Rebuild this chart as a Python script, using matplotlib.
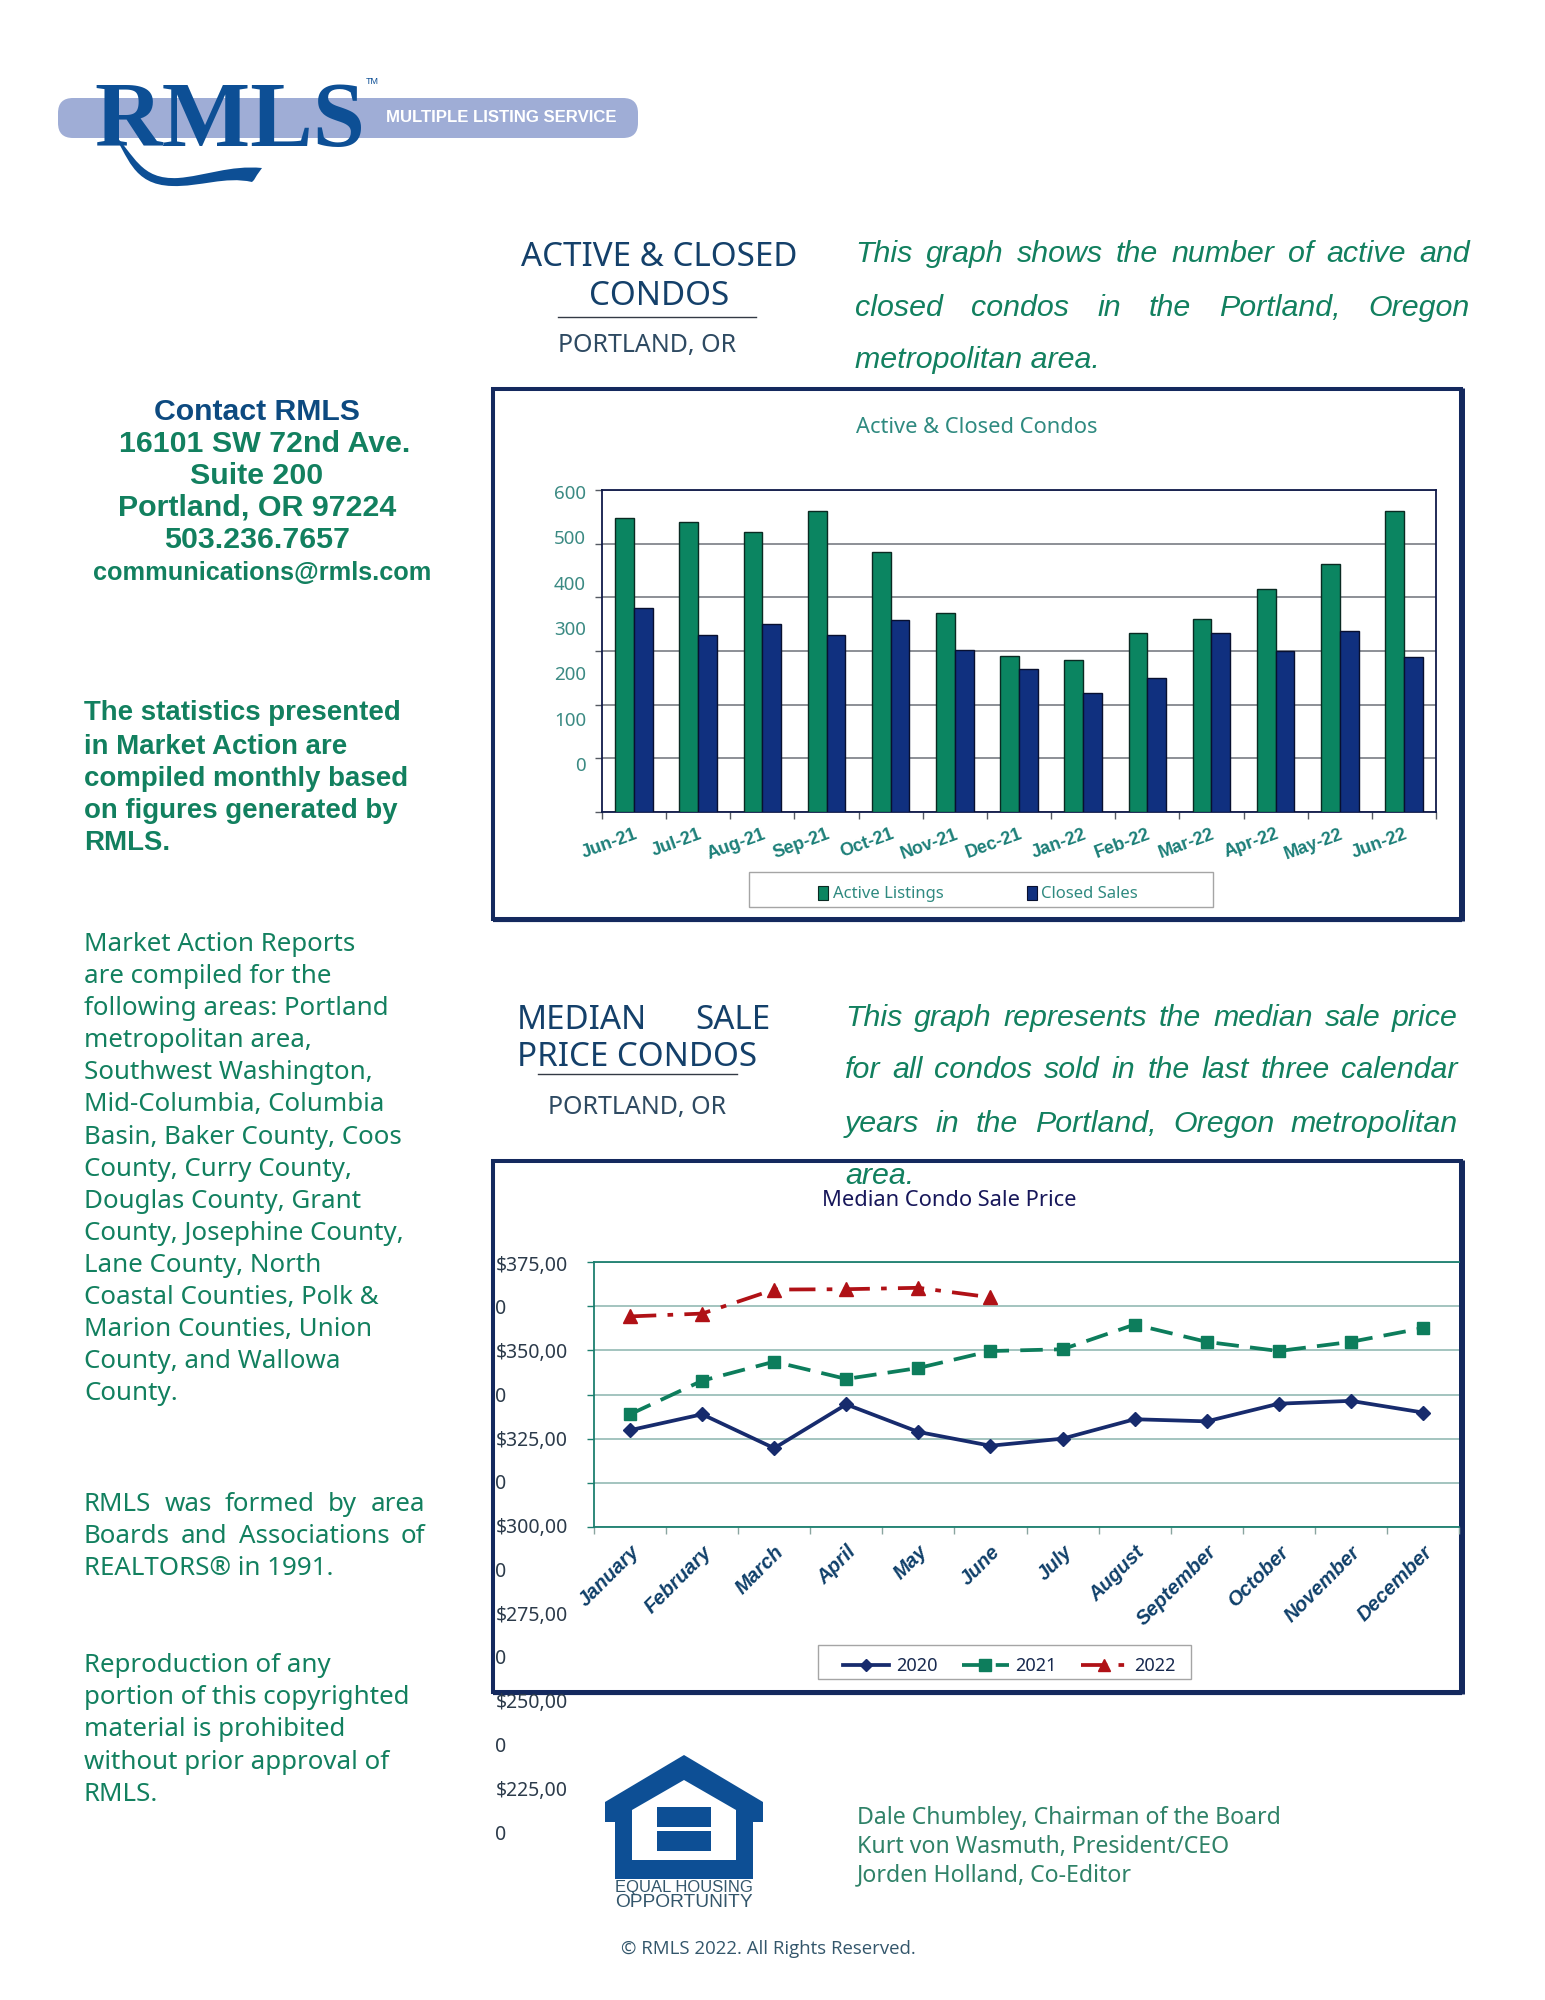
import matplotlib
matplotlib.use("Agg")
import matplotlib.pyplot as plt
from matplotlib.patches import Rectangle, Polygon, FancyBboxPatch, PathPatch
from matplotlib.path import Path
from matplotlib.lines import Line2D
import numpy as np

W, H = 1545, 2000

# ---- data ----
bar_months = ["Jun-21", "Jul-21", "Aug-21", "Sep-21", "Oct-21", "Nov-21", "Dec-21",
              "Jan-22", "Feb-22", "Mar-22", "Apr-22", "May-22", "Jun-22"]
active_listings = [548, 541, 522, 560, 484, 371, 290, 283, 334, 360, 415, 463, 560]
closed_sales = [380, 329, 350, 329, 358, 302, 267, 221, 249, 334, 300, 337, 288]
bar_ticks = [0, 100, 200, 300, 400, 500, 600]

line_months = ["January", "February", "March", "April", "May", "June", "July", "August",
               "September", "October", "November", "December"]
price_2020 = [327.4, 331.9, 322.3, 334.7, 326.9, 323.0, 325.0, 330.5, 329.9, 334.9, 335.7, 332.4]
price_2021 = [331.9, 341.4, 346.8, 341.9, 345.0, 349.8, 350.3, 357.3, 352.4, 349.8, 352.4, 356.3]
price_2022 = [359.6, 360.4, 367.2, 367.3, 367.7, 365.0]
price_grid = [300, 312.5, 325, 337.5, 350, 362.5, 375]
price_label_rows = [375, 362.5, 350, 337.5, 325, 312.5, 300, 287.5, 275, 262.5, 250, 237.5, 225, 212.5]
price_labels = ["$375,00", "0", "$350,00", "0", "$325,00", "0", "$300,00", "0",
                "$275,00", "0", "$250,00", "0", "$225,00", "0"]

GREEN = "#12805f"
TEAL = "#2f8a80"
NAVY = "#15296a"
FRAME = "#14295e"
BLUE = "#0d4f95"
PLEX = ["Noto Sans", "DejaVu Sans"]
ARIAL = ["Liberation Sans", "DejaVu Sans"]

fig = plt.figure(figsize=(W / 100, H / 100), dpi=100, facecolor="white")
renderer = fig.canvas.get_renderer()


def px_axes(l, t, r, b, **kw):
    return fig.add_axes([l / W, 1 - b / H, (r - l) / W, (b - t) / H], **kw)


bg = px_axes(0, 0, W, H, zorder=0)
bg.set_xlim(0, W)
bg.set_ylim(H, 0)
bg.axis("off")


def fit_size(s, width, **kw):
    t = bg.text(0, 0, s, fontsize=20, **kw)
    w = t.get_window_extent(renderer).width
    t.remove()
    return 20 * width / w


def y_shift(kw):
    return 2.5 if kw.get("family") == PLEX else 1.5


def txt(s, x, y, size=None, width=None, ha="left", **kw):
    if size is None:
        size = fit_size(s, width, **{k: v for k, v in kw.items() if k in ("family", "weight", "style")})
    bg.text(x, y + y_shift(kw), s, fontsize=size, ha=ha, va="center", **kw)
    return size


def justified(s, x0, x1, y, size, **kw):
    words = s.split()
    ws = []
    for w in words:
        t = bg.text(0, 0, w, fontsize=size, **kw)
        ws.append(t.get_window_extent(renderer).width)
        t.remove()
    gap = (x1 - x0 - sum(ws)) / (len(words) - 1)
    x = x0
    for w, wd in zip(words, ws):
        bg.text(x, y + y_shift(kw), w, fontsize=size, ha="left", va="center", **kw)
        x += wd + gap


# ---- logo ----
bg.add_patch(FancyBboxPatch((58, 98), 580, 40, boxstyle="round,pad=0,rounding_size=15",
                            mutation_aspect=1, fc="#9fadd6", ec="none"))
txt("RMLS", 94, 122, width=270, family=["Liberation Serif"], color=BLUE, weight="bold")
swash = Path([(112, 132), (135, 155), (140, 180), (178, 178), (205, 176), (230, 165), (262, 168),
              (257, 175), (254, 180), (252, 182), (225, 176), (200, 187), (172, 186),
              (132, 185), (128, 155), (112, 132)],
             [Path.MOVETO] + [Path.CURVE4] * 6 + [Path.LINETO] * 3 + [Path.CURVE4] * 6)
bg.add_patch(PathPatch(swash, fc=BLUE, ec="none"))
txt("MULTIPLE LISTING SERVICE", 386, 116, width=231, family=ARIAL, weight="bold", color="white")
txt("TM", 366, 80, size=6.5, family=ARIAL, color=BLUE)

# ---- left column ----
txt("Contact RMLS", 257, 410, width=207, ha="center", family=ARIAL, weight="bold", color="#0d4a80")
s = txt("16101 SW 72nd Ave.", 265, 442, width=292, ha="center", family=ARIAL, weight="bold", color=GREEN)
txt("Suite 200", 257, 475, size=s, ha="center", family=ARIAL, weight="bold", color=GREEN)
txt("Portland, OR 97224", 257, 506, size=s, ha="center", family=ARIAL, weight="bold", color=GREEN)
txt("503.236.7657", 257, 538, size=s, ha="center", family=ARIAL, weight="bold", color=GREEN)
txt("communications@rmls.com", 262, 572, width=338, ha="center", family=ARIAL, weight="bold", color=GREEN)

bold_lines = ["The statistics presented", "in Market Action are", "compiled monthly based",
              "on figures generated by", "RMLS."]
s = fit_size(bold_lines[0], 316, family=ARIAL, weight="bold")
for ln, y in zip(bold_lines, [712, 745, 777, 809, 841]):
    txt(ln, 84, y, size=s, family=ARIAL, weight="bold", color=GREEN)

market_lines = ["Market Action Reports", "are compiled for the", "following areas: Portland",
                "metropolitan area,", "Southwest Washington,", "Mid-Columbia, Columbia",
                "Basin, Baker County, Coos", "County, Curry County,", "Douglas County, Grant",
                "County, Josephine County,", "Lane County, North", "Coastal Counties, Polk &",
                "Marion Counties, Union", "County, and Wallowa", "County."]
body = fit_size(market_lines[0], 271, family=PLEX)
for i, ln in enumerate(market_lines):
    txt(ln, 84, 942 + 32.1 * i, size=body, family=PLEX, color=GREEN)

justified("RMLS was formed by area", 84, 425, 1502, body, family=PLEX, color=GREEN)
justified("Boards and Associations of", 84, 425, 1534, body, family=PLEX, color=GREEN)
txt("REALTORS® in 1991.", 84, 1566, size=body, family=PLEX, color=GREEN)

repro = ["Reproduction of any", "portion of this copyrighted", "material is prohibited",
         "without prior approval of", "RMLS."]
for ln, y in zip(repro, [1663, 1695, 1727, 1760, 1792]):
    txt(ln, 84, y, size=body, family=PLEX, color=GREEN)

# ---- headings ----
HEAD = "#14406a"
hs = txt("ACTIVE & CLOSED", 659, 255, width=277, ha="center", family=PLEX, color=HEAD)
txt("CONDOS", 659, 294, size=hs, ha="center", family=PLEX, color=HEAD)
bg.plot([558, 756], [317, 317], color="#333a45", lw=1)
ps = txt("PORTLAND, OR", 647, 343, width=179, ha="center", family=PLEX, color="#2e4a62")

it = dict(family=ARIAL, style="italic", color=GREEN)
isz = fit_size("metropolitan area.", 244, family=ARIAL, style="italic")
justified("This graph shows the number of active and", 855, 1470, 253, isz, **it)
justified("closed condos in the Portland, Oregon", 855, 1470, 306, isz, **it)
txt("metropolitan area.", 855, 358, size=isz, **it)

justified("MEDIAN SALE", 517, 770, 1018, hs, family=PLEX, color=HEAD)
txt("PRICE CONDOS", 517, 1055, size=hs, family=PLEX, color=HEAD)
bg.plot([538, 737], [1074, 1074], color="#333a45", lw=1)
txt("PORTLAND, OR", 637, 1105, size=ps, ha="center", family=PLEX, color="#2e4a62")

justified("This graph represents the median sale price", 845, 1458, 1016, isz, **it)
justified("for all condos sold in the last three calendar", 845, 1458, 1069, isz, **it)
justified("years in the Portland, Oregon metropolitan", 845, 1458, 1122, isz, **it)
txt("area.", 845, 1175, size=isz, **it)

# ---- frames ----
for t, b in [(389, 919), (1161, 1692)]:
    bg.add_patch(Rectangle((493, t), 968, b - t, fc="white", ec=FRAME, lw=2.9, zorder=1))
    bg.plot([1462, 1462], [t - 1, b + 2], color=FRAME, lw=3.6, zorder=1, solid_capstyle="butt")
    bg.plot([493, 1462], [b + 1, b + 1], color=FRAME, lw=3, zorder=1, solid_capstyle="butt")

txt("Active & Closed Condos", 977, 425, width=241, ha="center", family=PLEX, color=TEAL, zorder=3)
txt("Median Condo Sale Price", 949, 1198, width=254, ha="center", family=PLEX, color="#17175a", zorder=3)

# ---- bar chart ----
ax1 = px_axes(602, 490, 1436, 812, zorder=2)
x = np.arange(len(bar_months))
bw = 0.292
ax1.bar(x - bw / 2, active_listings, bw, color="#0b8561", edgecolor="#0a2a22", lw=1, zorder=3)
ax1.bar(x + bw / 2, closed_sales, bw, color="#10307f", edgecolor="#081030", lw=1, zorder=3)
ax1.set_xlim(-0.5, len(bar_months) - 0.5)
ax1.set_ylim(0, 600)
ax1.set_yticks(bar_ticks)
ax1.set_yticklabels([])
ax1.tick_params(axis="y", length=5, width=1, color="#555a62")
ax1.yaxis.grid(True, color="#84878d", lw=1.3, zorder=0)
ax1.set_axisbelow(True)
ax1.set_xticks(np.arange(-0.5, len(bar_months)))
ax1.set_xticklabels([])
ax1.tick_params(axis="x", length=5, width=1, color="#555a62")
ax1.set_xticks(x, minor=True)
ax1.set_xticklabels(bar_months, minor=True, rotation=20, ha="right", rotation_mode="anchor",
                    family=ARIAL, weight="bold", fontsize=13, color="#1c7f78")
ax1.tick_params(axis="x", which="minor", length=0, pad=10)
for sp in ax1.spines.values():
    sp.set_color("#101a4a")
    sp.set_linewidth(1.3)

lab1 = px_axes(602, 492, 1436, 764, zorder=2)
lab1.patch.set_alpha(0)
lab1.set_ylim(0, 600)
lab1.set_xticks([])
lab1.set_yticks(bar_ticks)
lab1.set_yticklabels([str(v) for v in bar_ticks], family=PLEX, fontsize=13.5, color="#3b8a83")
lab1.tick_params(axis="y", length=0, pad=11.5)
for sp in lab1.spines.values():
    sp.set_visible(False)

bg.add_patch(Rectangle((749, 872), 464, 35, fc="white", ec="#a5a5a5", lw=1, zorder=1.5))
h1 = [Rectangle((0, 0), 1, 1, fc="#0b8561", ec="#0a2a22", lw=0.8),
      Rectangle((0, 0), 1, 1, fc="#10307f", ec="#081030", lw=0.8)]
leg1 = fig.legend(h1, ["Active Listings", "Closed Sales"], ncol=2, loc="center",
                  bbox_to_anchor=(978 / W, 1 - 894 / H), frameon=False,
                  prop={"family": PLEX, "size": 12}, handlelength=0.62, handleheight=0.9,
                  handletextpad=0.25, columnspacing=5.0, labelcolor=TEAL)

# ---- line chart ----
ax2 = px_axes(594, 1262, 1459, 1527, zorder=2)
xl = np.arange(len(line_months))
ax2.plot(xl, price_2020, color="#172b6d", lw=2.7, marker="D", ms=7, label="2020", zorder=4)
ax2.plot(xl, price_2021, color="#0d7d5c", lw=2.7, marker="s", ms=8.5, ls=(0, (6, 3)), label="2021", zorder=4)
ax2.plot(xl[:len(price_2022)], price_2022, color="#b01116", lw=2.7, marker="^", ms=10,
         ls=(0, (7, 3, 1.5, 3)), label="2022", zorder=4)
ax2.set_xlim(-0.5, len(line_months) - 0.5)
ax2.set_ylim(300, 375)
ax2.set_yticks(price_grid)
ax2.set_yticklabels([])
ax2.tick_params(axis="y", length=5, width=1, color="#1c7f6f")
ax2.yaxis.grid(True, color="#a3c4bf", lw=1.4, zorder=0)
ax2.set_axisbelow(True)
ax2.set_xticks(np.arange(-0.5, len(line_months)))
ax2.set_xticklabels([])
ax2.tick_params(axis="x", length=5, width=1, color="#8aa5a0")
ax2.set_xticks(xl, minor=True)
ax2.set_xticklabels(line_months, minor=True, rotation=45, ha="right", rotation_mode="anchor",
                    family=ARIAL, weight="bold", style="italic", fontsize=14.5, color="#10406a")
ax2.tick_params(axis="x", which="minor", length=0, pad=11)
for k, sp in ax2.spines.items():
    sp.set_color("#1c7f6f")
    sp.set_linewidth(1.3)
ax2.spines["right"].set_visible(False)

lab2 = px_axes(594, 1263, 1459, 1832, zorder=3)
lab2.patch.set_alpha(0)
lab2.set_ylim(212.5, 375)
lab2.set_xticks([])
lab2.set_yticks(price_label_rows)
lab2.set_yticklabels(price_labels, family=PLEX, fontsize=14, color="#2b3a4a", ha="left")
lab2.tick_params(axis="y", length=0, pad=71)
for sp in lab2.spines.values():
    sp.set_visible(False)

bg.add_patch(Rectangle((818, 1645), 373, 34, fc="white", ec="#a5a5a5", lw=1, zorder=1.5))
h2 = [Line2D([], [], color="#172b6d", lw=2.7, marker="D", ms=6.5),
      Line2D([], [], color="#0d7d5c", lw=2.7, marker="s", ms=8, ls=(0, (6, 3))),
      Line2D([], [], color="#b01116", lw=2.7, marker="^", ms=9, ls=(0, (7, 3, 1.5, 3)))]
fig.legend(h2, ["2020", "2021", "2022"], ncol=3, loc="center",
           bbox_to_anchor=(1009 / W, 1 - 1666 / H), frameon=False,
           prop={"family": PLEX, "size": 13}, handlelength=2.6, handletextpad=0.35,
           columnspacing=1.35, labelcolor="#17294f")

# ---- footer ----
for pts in [[(684, 1755), (763, 1802), (763, 1822), (753, 1822), (753, 1879), (615, 1879),
             (615, 1822), (605, 1822), (605, 1802)]]:
    bg.add_patch(Polygon(pts, fc=BLUE, ec="none", zorder=2))
bg.add_patch(Polygon([(684, 1780), (736, 1810), (736, 1860), (632, 1860), (632, 1810)],
                     fc="white", ec="none", zorder=2.1))
bg.add_patch(Rectangle((657, 1807), 54, 20, fc=BLUE, ec="none", zorder=2.2))
bg.add_patch(Rectangle((657, 1831), 54, 20, fc=BLUE, ec="none", zorder=2.2))
txt("EQUAL HOUSING", 684, 1886, width=138, ha="center", family=ARIAL, color="#33566b")
txt("OPPORTUNITY", 684, 1901, width=138, ha="center", family=ARIAL, color="#33566b")

ns = txt("Dale Chumbley, Chairman of the Board", 857, 1815, width=424, family=PLEX, color="#2f8268")
txt("Kurt von Wasmuth, President/CEO", 857, 1844, size=ns, family=PLEX, color="#2f8268")
txt("Jorden Holland, Co-Editor", 857, 1873, size=ns, family=PLEX, color="#2f8268")
txt("© RMLS 2022. All Rights Reserved.", 621, 1947, width=294, family=["Open Sans", "DejaVu Sans"], color="#33566b")

fig.savefig("out.png", dpi=100, facecolor="white")
